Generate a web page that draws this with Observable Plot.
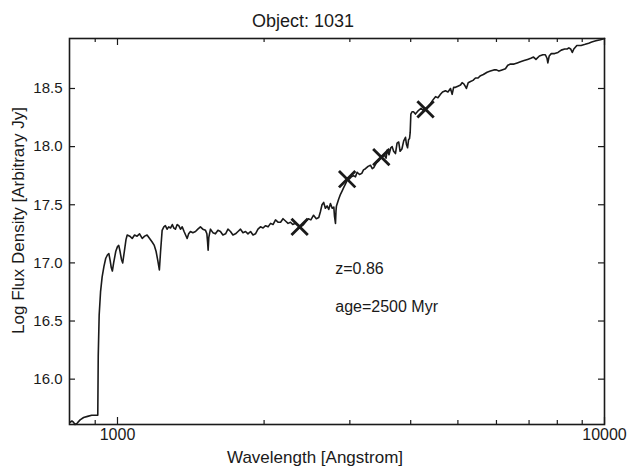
<!DOCTYPE html>
<html><head><meta charset="utf-8">
<script src="https://cdn.jsdelivr.net/npm/d3@7"></script>
<script src="https://cdn.jsdelivr.net/npm/@observablehq/plot@0.6"></script>
<style>html,body{margin:0;padding:0;background:#fff}</style>
</head><body><div id="chart"></div>
<script>
const wavelength = [800,806,812,818,826,838,852,868,885,905,911,913,917,923,930,938,946,954,960,966,971,976,982,992,1000,1006,1012,1019,1025,1033,1041,1047,1060,1072,1084,1097,1110,1124,1137,1150,1164,1178,1190,1200,1210,1219,1226,1235,1245,1254,1264,1274,1285,1296,1305,1315,1326,1336,1347,1358,1370,1380,1390,1400,1412,1428,1446,1462,1480,1497,1516,1526,1531,1535,1540,1552,1570,1589,1608,1627,1646,1667,1686,1706,1726,1747,1768,1789,1810,1832,1853,1876,1898,1920,1943,1966,1990,2014,2038,2062,2086,2111,2136,2162,2187,2213,2240,2266,2290,2320,2345,2376,2410,2440,2465,2495,2527,2560,2590,2610,2630,2651,2672,2694,2715,2737,2760,2781,2790,2803,2810,2816,2846,2870,2893,2915,2939,2962,2990,3020,3053,3080,3105,3140,3174,3200,3230,3270,3307,3335,3359,3400,3441,3467,3500,3530,3560,3579,3610,3640,3664,3690,3722,3750,3779,3805,3837,3870,3903,3920,3941,3960,3978,3990,4003,4025,4053,4090,4148,4200,4250,4291,4340,4393,4440,4498,4550,4605,4650,4714,4770,4828,4866,4900,4943,5000,5062,5100,5141,5175,5205,5250,5307,5370,5433,5500,5565,5640,5740,5830,5927,6000,6069,6160,6260,6330,6412,6520,6620,6720,6837,6950,7058,7150,7232,7350,7472,7560,7620,7650,7700,7775,7900,8026,8150,8285,8380,8450,8520,8588,8650,8774,8950,9129,9280,9414,9600,9811,10000];
const logFlux = [15.63,15.64,15.63,15.61,15.62,15.65,15.67,15.68,15.69,15.69,15.69,16.20,16.55,16.75,16.88,16.97,17.04,17.07,17.08,17.02,16.96,16.93,17.00,17.10,17.14,17.15,17.10,17.03,17.00,17.10,17.20,17.24,17.23,17.21,17.24,17.23,17.25,17.21,17.23,17.24,17.21,17.18,17.15,17.10,17.02,16.94,17.10,17.28,17.31,17.32,17.29,17.31,17.30,17.33,17.30,17.29,17.33,17.32,17.29,17.31,17.27,17.24,17.21,17.25,17.27,17.26,17.27,17.29,17.31,17.29,17.28,17.25,17.18,17.11,17.22,17.29,17.26,17.25,17.28,17.27,17.24,17.25,17.29,17.27,17.24,17.25,17.27,17.29,17.26,17.27,17.25,17.27,17.24,17.25,17.29,17.31,17.30,17.32,17.31,17.34,17.33,17.37,17.35,17.35,17.38,17.36,17.34,17.35,17.33,17.34,17.33,17.31,17.33,17.36,17.38,17.37,17.41,17.38,17.39,17.44,17.50,17.52,17.47,17.49,17.46,17.51,17.47,17.48,17.40,17.34,17.45,17.49,17.55,17.59,17.62,17.65,17.68,17.71,17.72,17.74,17.75,17.74,17.78,17.76,17.77,17.80,17.81,17.83,17.84,17.81,17.82,17.86,17.88,17.90,17.91,17.93,17.90,17.97,17.93,17.99,18.00,17.96,17.94,18.03,18.04,17.96,17.98,18.05,18.08,18.02,17.99,18.06,18.07,18.12,18.28,18.30,18.30,18.28,18.31,18.33,18.31,18.33,18.34,18.37,18.40,18.43,18.42,18.45,18.47,18.48,18.47,18.50,18.45,18.51,18.51,18.52,18.53,18.55,18.54,18.52,18.50,18.55,18.56,18.57,18.59,18.59,18.61,18.62,18.64,18.65,18.66,18.66,18.65,18.66,18.67,18.70,18.71,18.71,18.72,18.73,18.74,18.75,18.76,18.77,18.75,18.78,18.79,18.79,18.76,18.72,18.78,18.80,18.80,18.81,18.83,18.84,18.84,18.85,18.84,18.81,18.84,18.87,18.87,18.88,18.89,18.90,18.91,18.92,18.93];
const markerWavelength = [2366, 2962, 3481, 4291];
const markerLogFlux = [17.31, 17.72, 17.91, 18.32];
const noteText = ["z=0.86", "age=2500 Myr"];
const noteWavelength = [2800, 2800];
const noteLogFlux = [16.95, 16.62];
const xMajorTicks = [1000, 10000];
const xMinorTicks = [900, 2000, 3000, 4000, 5000, 6000, 7000, 8000, 9000];
const yTicks = [16, 16.5, 17, 17.5, 18, 18.5];
const titleText = "Object: 1031";
const xLabel = "Wavelength [Angstrom]";
const yLabel = "Log Flux Density [Arbitrary Jy]";

const spectrum = wavelength.map((w, i) => ({w, f: logFlux[i]}));
const markers = markerWavelength.map((w, i) => ({w, f: markerLogFlux[i]}));
const notes = noteText.map((t, i) => ({t, w: noteWavelength[i], f: noteLogFlux[i]}));

const W = 630, H = 476, mL = 69, mR = 26, mT = 38, mB = 52;
const innerH = H - mT - mB, innerW = W - mL - mR;
const ink = "#1a1a1a";
const font = "'Liberation Sans', Arial, Helvetica, sans-serif";

const chart = Plot.plot({
  width: W, height: H,
  marginLeft: mL, marginRight: mR, marginTop: mT, marginBottom: mB,
  style: {fontFamily: font, color: ink, background: "#fff", overflow: "visible"},
  x: {type: "log", domain: [797, 10000], axis: null, label: null},
  y: {domain: [15.61, 18.93], axis: null, label: null},
  marks: [
    Plot.line(spectrum, {x: "w", y: "f", stroke: ink, strokeWidth: 1.6, strokeLinejoin: "round"}),
    Plot.dot(markers, {x: "w", y: "f", symbol: "times", r: 7.5, stroke: ink, strokeWidth: 2.8}),
    Plot.frame({stroke: ink, strokeWidth: 1.6}),
    Plot.tickX(xMajorTicks, {x: d => d, insetTop: innerH - 7, stroke: ink, strokeWidth: 1.2}),
    Plot.tickX(xMajorTicks, {x: d => d, insetBottom: innerH - 7, stroke: ink, strokeWidth: 1.2}),
    Plot.tickX(xMinorTicks, {x: d => d, insetTop: innerH - 4, stroke: ink, strokeWidth: 1.2}),
    Plot.tickX(xMinorTicks, {x: d => d, insetBottom: innerH - 4, stroke: ink, strokeWidth: 1.2}),
    Plot.tickY(yTicks, {y: d => d, insetRight: innerW - 6, stroke: ink, strokeWidth: 1.2}),
    Plot.tickY(yTicks, {y: d => d, insetLeft: innerW - 6, stroke: ink, strokeWidth: 1.2}),
    Plot.text(xMajorTicks, {x: d => d, frameAnchor: "bottom", lineAnchor: "top", dy: 4, text: d => String(d), fontSize: 16}),
    Plot.text(yTicks, {y: d => d, frameAnchor: "left", textAnchor: "end", dx: -7, text: d => d.toFixed(1), fontSize: 15}),
    Plot.text(notes, {x: "w", y: "f", text: "t", textAnchor: "start", fontSize: 16}),
    Plot.text([titleText], {frameAnchor: "top", dy: -24, dx: -34, text: d => d, fontSize: 18}),
    Plot.text([xLabel], {frameAnchor: "bottom", dy: 38, dx: -22, text: d => d, fontSize: 17}),
    Plot.text([yLabel], {frameAnchor: "left", textAnchor: "middle", dx: -51, dy: -11, rotate: -90, text: d => d, fontSize: 17})
  ]
});
document.getElementById("chart").append(chart);
</script>
</body></html>
